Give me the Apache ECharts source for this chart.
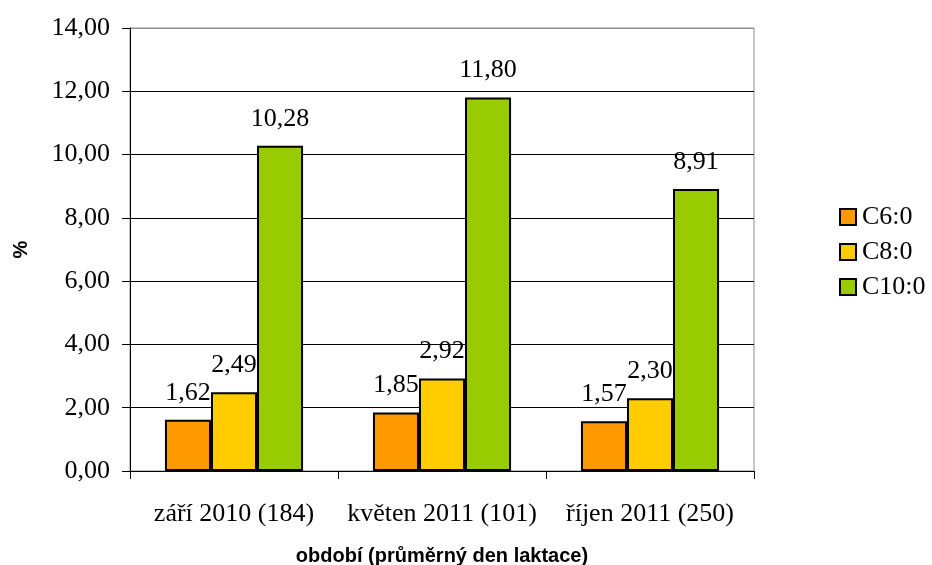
<!DOCTYPE html>
<html>
<head>
<meta charset="utf-8">
<script src="https://cdn.jsdelivr.net/npm/echarts@6/dist/echarts.min.js"></script>
<style>
  html, body { margin: 0; padding: 0; background: #fff; }
  #chart { width: 932px; height: 565px; }
</style>
</head>
<body>
<div id="chart"></div>
<script>
// Periods (average day of lactation in brackets)
const categories = ['září 2010 (184)', 'květen 2011 (101)', 'říjen 2011 (250)'];
const seriesNames = ['C6:0', 'C8:0', 'C10:0'];
const c6 = [1.62, 1.85, 1.57];
const c8 = [2.49, 2.92, 2.30];
const c10 = [10.28, 11.80, 8.91];
const colors = ['#FF9900', '#FFCC00', '#99CC00'];

const serif = 'Liberation Serif, Times New Roman, serif';
const sans = 'Liberation Sans, Arial, sans-serif';
const fmt = v => v.toFixed(2).replace('.', ',');

const makeSeries = (name, data, color) => ({
  name: name,
  type: 'bar',
  data: data,
  barGap: '0%',
  barCategoryGap: '33.6%',
  itemStyle: { color: color, borderColor: '#000', borderWidth: 2 },
  label: {
    show: true,
    position: 'top',
    distance: 14,
    formatter: p => fmt(p.value),
    fontFamily: serif,
    fontSize: 26,
    color: '#000'
  }
});

const chart = echarts.init(document.getElementById('chart'));
chart.setOption({
  animation: false,
  backgroundColor: '#fff',
  grid: {
    left: 130, right: 178, top: 28, bottom: 94,
    outerBoundsMode: 'none',
    containLabel: false,
    show: true, borderColor: '#8c8c8c', borderWidth: 1, backgroundColor: 'transparent'
  },
  legend: {
    orient: 'vertical',
    left: 834,
    top: 199,
    itemWidth: 16,
    itemHeight: 16,
    itemGap: 9,
    icon: 'rect',
    itemStyle: { borderColor: '#000', borderWidth: 2 },
    textStyle: { fontFamily: serif, fontSize: 26, color: '#000', padding: [0, 0, 0, 1] },
    data: seriesNames
  },
  xAxis: {
    type: 'category',
    data: categories,
    name: 'období (průměrný den laktace)',
    nameLocation: 'middle',
    nameGap: 75,
    nameTextStyle: { fontFamily: sans, fontWeight: 'bold', fontSize: 20, color: '#000' },
    axisLine: { show: true, lineStyle: { color: '#000', width: 1 } },
    axisTick: { show: true, length: 8, alignWithLabel: false, lineStyle: { color: '#000' } },
    axisLabel: { interval: 0, fontFamily: serif, fontSize: 26, color: '#000', margin: 30 }
  },
  yAxis: {
    type: 'value',
    min: 0,
    max: 14,
    interval: 2,
    name: '%',
    nameLocation: 'middle',
    nameGap: 99,
    nameRotate: 90,
    nameTextStyle: { fontFamily: sans, fontWeight: 'bold', fontSize: 20, color: '#000' },
    axisLine: { show: true, lineStyle: { color: '#000', width: 1 } },
    axisTick: { show: true, length: 8, lineStyle: { color: '#000' } },
    axisLabel: { fontFamily: serif, fontSize: 26, color: '#000', margin: 20, formatter: v => fmt(v) },
    splitLine: {
      show: true,
      lineStyle: { color: ['#000', '#000', '#000', '#000', '#000', '#000', '#000', '#8c8c8c'], width: 1 }
    }
  },
  series: [
    makeSeries(seriesNames[0], c6, colors[0]),
    makeSeries(seriesNames[1], c8, colors[1]),
    makeSeries(seriesNames[2], c10, colors[2])
  ]
});
</script>
</body>
</html>
